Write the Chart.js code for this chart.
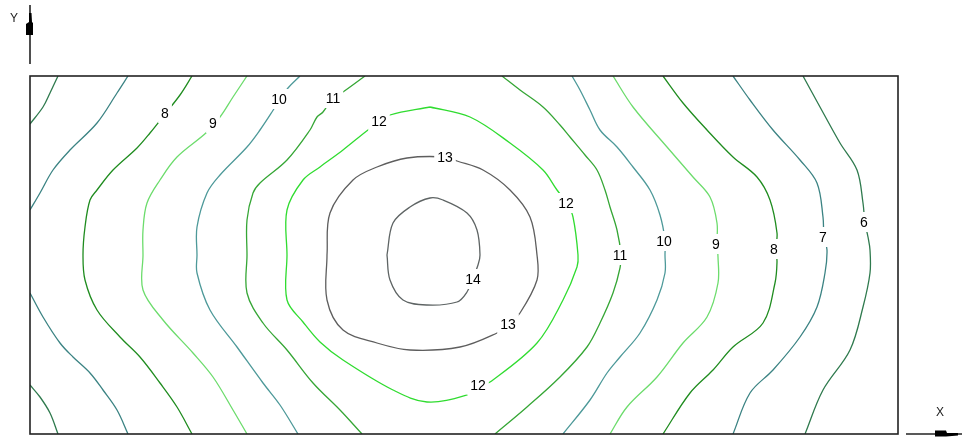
<!DOCTYPE html>
<html>
<head>
<meta charset="utf-8">
<script src="https://cdn.jsdelivr.net/npm/chart.js@4/dist/chart.umd.min.js"></script>
<style>
  body { margin: 0; background: #fff; }
  #wrap { width: 962px; height: 439px; position: relative; }
</style>
</head>
<body>
<div id="wrap"><canvas id="contour"></canvas></div>
<script>
// contour traces, x / y in plot units (x 0..868, y 0..358)
const level6Left = [[28,358],[20,341],[13,327],[0,310]];
const level6LowLeft = [[0,49],[10,37],[20,21],[28,0]];
const level6Right = [[773,358],[790,327],[810,291],[827,264],[833,231],[835,211],[838,197],[840,184],[840,161],[833,127],[820,84],[793,44],[775,0]];

const level7Left = [[98,358],[87,341],[67,311],[40,284],[23,264],[10,241],[0,224]];
const level7LowLeft = [[0,141],[13,117],[30,91],[43,77],[60,61],[73,44],[87,24],[98,0]];
const level7Right = [[703,358],[720,334],[743,304],[770,274],[787,251],[793,217],[794,197],[797,184],[795,161],[787,127],[770,97],[743,64],[720,41],[703,0]];

const level8Left = [[162,358],[150,339],[135,320],[120,301],[107,286],[83,264],[67,244],[60,234],[55,207],[53,179],[55,154],[67,124],[90,97],[110,77],[130,51],[147,27],[162,0]];
const level8Right = [[633,358],[653,331],[677,304],[703,277],[727,257],[740,234],[747,201],[746,186],[747,172],[745,151],[733,111],[703,87],[683,64],[660,41],[633,0]];

const level9Left = [[217,358],[203,337],[190,317],[183,311],[177,302],[147,277],[130,254],[117,231],[113,204],[113,179],[113,144],[133,114],[163,81],[183,57],[203,24],[217,0]];
const level9Right = [[583,358],[603,327],[637,287],[663,257],[680,237],[687,211],[687,191],[688,177],[688,151],[677,117],[653,91],[627,57],[597,27],[580,0]];

const level10Left = [[270,358],[258,346],[250,335],[242,322],[230,304],[217,287],[190,259],[177,241],[167,207],[167,179],[167,161],[180,124],[207,87],[233,51],[250,29],[268,0]];
const level10Right = [[542,358],[550,344],[560,324],[570,304],[587,287],[603,267],[620,244],[630,219],[635,194],[635,179],[635,161],[627,134],[610,101],[590,77],[577,61],[560,34],[533,0]];

const level11Left = [[335,358],[313,342],[303,336],[293,322],[287,317],[280,304],[257,274],[230,251],[223,241],[217,214],[217,179],[217,141],[233,111],[257,84],[283,51],[310,24],[332,0]];
const level11Right = [[472,358],[490,344],[513,327],[530,309],[540,297],[555,279],[567,264],[575,244],[580,227],[587,204],[591,179],[590,166],[583,141],[570,111],[557,87],[530,57],[497,27],[465,0]];

const level12Ring = [[400,327],[440,317],[480,291],[513,264],[527,244],[537,231],[543,217],[548,179],[547,167],[533,134],[507,91],[460,52],[448,47],[437,39],[397,32],[363,44],[313,74],[290,92],[273,112],[257,134],[257,179],[257,224],[273,254],[290,267],[313,284],[338,304],[350,312],[360,319],[400,327]];
const level13Ring = [[297,179],[300,221],[323,254],[347,267],[377,276],[415,277],[427,273],[453,264],[480,244],[500,217],[507,179],[507,154],[490,121],[478,109],[467,101],[430,87],[380,84],[347,91],[313,104],[297,134],[297,179]];
const level14Ring = [[357,179],[363,211],[380,227],[400,236],[413,234],[437,221],[447,204],[450,179],[448,169],[443,156],[437,142],[427,132],[397,129],[373,134],[360,154],[357,179]];

const levels = [6, 7, 8, 9, 10, 11, 12, 13, 14];
const levelColors = ['#2f7a4e', '#3b8383', '#1f8c1f', '#6cdc6c', '#4d9999', '#35a635', '#30dc30', '#5e5e5e', '#5e6464'];
const traces = [
  [6, level6Left], [6, level6LowLeft], [6, level6Right],
  [7, level7Left], [7, level7LowLeft], [7, level7Right],
  [8, level8Left], [8, level8Right],
  [9, level9Left], [9, level9Right],
  [10, level10Left], [10, level10Right],
  [11, level11Left], [11, level11Right],
  [12, level12Ring], [13, level13Ring], [14, level14Ring]
];

// contour labels: text, x, y
const labelText = ['8', '9', '10', '11', '12', '13', '12', '11', '10', '9', '8', '7', '6', '14', '13', '12'];
const labelX = [135, 183, 249, 303, 349, 415, 536, 590, 634, 686, 744, 793, 834, 443, 478, 448];
const labelY = [321, 311, 335, 336, 313, 277, 231, 179, 193, 190, 185, 197, 212, 155, 110, 49];

const datasets = traces.map(([lvl, pts]) => ({
  label: 'Level ' + lvl,
  data: pts.map(p => ({x: p[0], y: p[1]})),
  borderColor: levelColors[levels.indexOf(lvl)],
  borderWidth: 1.3,
  pointRadius: 0,
  showLine: true,
  fill: false,
  tension: 0.35
}));

// frame, axis arrows and contour labels
const decorations = {
  id: 'decorations',
  afterDatasetsDraw(chart) {
    const ctx = chart.ctx;
    const area = chart.chartArea;
    const xs = chart.scales.x;
    const ys = chart.scales.y;
    ctx.save();

    // labels with white boxes to break the lines
    ctx.font = '14px "Liberation Sans", Arial, sans-serif';
    ctx.textAlign = 'center';
    ctx.textBaseline = 'middle';
    labelText.forEach((t, i) => {
      const px = xs.getPixelForValue(labelX[i]);
      const py = ys.getPixelForValue(labelY[i]);
      const w = ctx.measureText(t).width + 6;
      ctx.fillStyle = '#fff';
      ctx.fillRect(px - w / 2, py - 10, w, 20);
      ctx.fillStyle = '#000';
      ctx.fillText(t, px, py + 1);
    });

    // frame
    ctx.strokeStyle = '#222';
    ctx.lineWidth = 1.6;
    ctx.strokeRect(area.left, area.top, area.right - area.left, area.bottom - area.top);

    // Y indicator
    ctx.lineWidth = 1.6;
    ctx.beginPath();
    ctx.moveTo(area.left, 5);
    ctx.lineTo(area.left, 64);
    ctx.stroke();
    ctx.fillStyle = '#000';
    ctx.beginPath();
    ctx.moveTo(area.left - 1, 13);
    ctx.lineTo(area.left + 1.5, 13);
    ctx.lineTo(area.left + 2, 22);
    ctx.lineTo(area.left + 3, 23);
    ctx.lineTo(area.left + 3, 35);
    ctx.lineTo(area.left - 4, 35);
    ctx.lineTo(area.left - 4, 24);
    ctx.lineTo(area.left - 1, 22);
    ctx.closePath();
    ctx.fill();

    // X indicator
    ctx.beginPath();
    ctx.moveTo(906, area.bottom);
    ctx.lineTo(962, area.bottom);
    ctx.stroke();
    ctx.beginPath();
    ctx.moveTo(935, area.bottom - 3.5);
    ctx.lineTo(946, area.bottom - 3.5);
    ctx.lineTo(947, area.bottom - 1);
    ctx.lineTo(958, area.bottom - 1);
    ctx.lineTo(958, area.bottom + 1.5);
    ctx.lineTo(946, area.bottom + 2.5);
    ctx.lineTo(935, area.bottom + 2.5);
    ctx.closePath();
    ctx.fill();

    ctx.fillStyle = '#222';
    ctx.font = '12px "Liberation Sans", Arial, sans-serif';
    ctx.fillText('Y', 14, 19);
    ctx.fillText('X', 940, 413);
    ctx.restore();
  }
};

new Chart(document.getElementById('contour'), {
  type: 'scatter',
  data: { datasets },
  options: {
    responsive: true,
    maintainAspectRatio: false,
    animation: false,
    layout: { padding: { left: 30, top: 76, right: 64, bottom: 5 } },
    plugins: { legend: { display: false }, tooltip: { enabled: false } },
    scales: {
      x: { type: 'linear', min: 0, max: 868, display: false },
      y: { type: 'linear', min: 0, max: 358, display: false }
    }
  },
  plugins: [decorations]
});
</script>
</body>
</html>
